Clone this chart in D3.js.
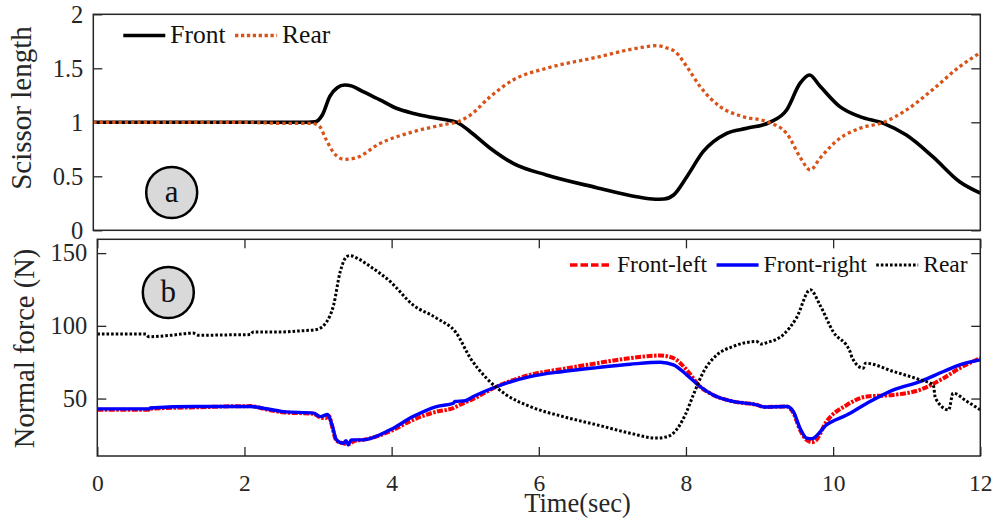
<!DOCTYPE html>
<html lang="en">
<head>
  <meta charset="utf-8" />
  <title>Scissor length and normal force</title>
  <script src="https://cdn.jsdelivr.net/npm/d3@7"></script>
  <style>
    body { margin: 0; background: #fff; }
    svg  { display: block; }
    svg text { font-family: "Liberation Serif", "Times New Roman", "DejaVu Serif", serif; }
    .frame { fill: none; stroke: #262626; stroke-width: 1.5px; }
    .tick line { stroke: #262626; stroke-width: 1.3px; }
    .tick text { fill: #262626; }
    .lbl { fill: #262626; }
    .leg text { fill: #111; }
  </style>
</head>
<body>
<svg id="chart" width="996" height="527"></svg>
<script>
// ---- panel a: scissor length ----
const tA      = [0, 1, 2, 2.8, 3.0, 3.1, 3.2, 3.3, 3.4, 3.5, 3.65, 3.9, 4.1, 4.35, 4.55, 4.75, 4.92, 5.1, 5.37, 5.68, 6.13, 6.81, 7.35, 7.6, 7.72, 7.85, 8.03, 8.25, 8.57, 8.84, 9.15, 9.38, 9.56, 9.69, 9.83, 10.1, 10.37, 10.69, 11.0, 11.36, 11.72, 12];
const frontA  = [1.0, 1.0, 1.0, 1.0, 1.005, 1.07, 1.24, 1.32, 1.345, 1.335, 1.283, 1.2, 1.13, 1.08, 1.05, 1.025, 1.0, 0.913, 0.76, 0.62, 0.512, 0.395, 0.311, 0.288, 0.29, 0.327, 0.496, 0.728, 0.898, 0.944, 1.0, 1.114, 1.36, 1.438, 1.336, 1.145, 1.052, 0.99, 0.882, 0.68, 0.45, 0.345];
const tA2     = [0, 1, 2, 2.6, 2.95, 3.05, 3.15, 3.25, 3.4, 3.55, 3.88, 4.33, 4.78, 4.95, 5.1, 5.37, 5.68, 6.13, 6.81, 7.35, 7.62, 7.75, 7.87, 8.03, 8.21, 8.48, 8.79, 9.11, 9.38, 9.56, 9.7, 9.83, 10.1, 10.37, 10.69, 11.0, 11.36, 11.72, 12];
const rearA   = [1.0, 1.0, 1.0, 0.99, 0.99, 0.97, 0.84, 0.72, 0.657, 0.67, 0.805, 0.913, 0.984, 1.01, 1.067, 1.237, 1.392, 1.5, 1.602, 1.685, 1.71, 1.69, 1.655, 1.515, 1.33, 1.145, 1.052, 1.006, 0.898, 0.68, 0.558, 0.667, 0.852, 0.944, 1.0, 1.114, 1.305, 1.515, 1.645];

// ---- panel b: normal force ----
const tRear   = [0, 0.66, 0.7, 1.0, 1.3, 1.38, 1.8, 2.08, 2.12, 2.5, 2.75, 2.98, 3.12, 3.21, 3.3, 3.39, 3.43, 3.55, 3.71, 3.98, 4.29, 4.61, 4.88, 5.07, 5.29, 5.56, 5.88, 6.33, 6.79, 7.24, 7.6, 7.72, 7.83, 7.99, 8.1, 8.24, 8.42, 8.64, 8.96, 9.02, 9.1, 9.32, 9.5, 9.69, 9.82, 10.0, 10.23, 10.26, 10.41, 10.44, 10.82, 11.18, 11.36, 11.39, 11.57, 11.63, 11.82, 12];
const rearB   = [94.3, 94.3, 92.5, 93.5, 95, 93.5, 93.8, 94, 95.8, 95.8, 96.5, 97.5, 103, 114, 137, 147.6, 148.3, 146, 140.8, 130.5, 114.4, 105.3, 95, 77.8, 64, 52.5, 44.5, 37.6, 31.9, 26.2, 22.8, 23.5, 26.2, 38.8, 52.5, 68.6, 80, 85.8, 89.2, 87.5, 88.5, 93.8, 105.3, 124.8, 114.4, 96, 82.3, 77.8, 70.9, 74.3, 68.6, 62.9, 59.4, 50.3, 42.2, 53.7, 48, 42.2];
const tFR     = [0, 0.7, 0.72, 1.35, 2.08, 2.3, 2.53, 2.94, 3.03, 3.13, 3.19, 3.25, 3.34, 3.38, 3.41, 3.45, 3.61, 3.98, 4.29, 4.61, 4.84, 4.86, 5.0, 5.11, 5.43, 5.88, 6.33, 6.79, 7.24, 7.65, 7.83, 8.01, 8.19, 8.37, 8.64, 8.96, 9.07, 9.37, 9.46, 9.55, 9.64, 9.71, 9.91, 10.19, 10.46, 10.82, 11.18, 11.5, 11.72, 12];
const frontR  = [42.9, 42.9, 43.5, 44.5, 44.5, 43, 41, 40, 37.6, 39, 31.9, 21.6, 19.3, 21, 18.2, 21.6, 21.6, 28.5, 37.6, 44.5, 46.8, 48, 48.5, 51.4, 58.3, 65.1, 68.6, 71.3, 73.6, 75, 73.2, 66.3, 58.3, 52.5, 48, 45.7, 44.2, 44.5, 41, 29.6, 22.8, 22.4, 31.9, 38.8, 46.8, 56, 61.7, 68.6, 73.2, 76.6];
const tFL     = [0, 0.7, 0.72, 1.35, 2.08, 2.3, 2.53, 2.94, 3.03, 3.1, 3.15, 3.19, 3.25, 3.34, 3.41, 3.5, 3.61, 3.98, 4.29, 4.61, 4.84, 4.9, 5.11, 5.43, 5.88, 6.33, 6.79, 7.24, 7.65, 7.83, 8.01, 8.19, 8.37, 8.64, 8.96, 9.07, 9.37, 9.46, 9.55, 9.64, 9.71, 9.76, 9.91, 10.19, 10.46, 10.82, 11.18, 11.5, 11.72, 12];
const frontL  = [42.3, 42.3, 43, 44, 44.8, 42.5, 40.5, 39.5, 37, 36.5, 38, 31, 21, 19.3, 18.5, 21, 21.6, 27.5, 35.3, 41, 43.5, 45, 49.8, 58.3, 66.3, 70.4, 74.3, 77.8, 79.6, 77.8, 69.7, 58.3, 52.5, 48, 45.7, 44.2, 44.5, 40, 28.5, 21.5, 20, 21, 34.2, 45.7, 51.4, 52.5, 56, 64, 70.9, 77.8];

const xTicks  = [0, 2, 4, 6, 8, 10, 12];
const yTicksA = [0, 0.5, 1, 1.5, 2];
const yTicksB = [50, 100, 150];

const svg = d3.select('#chart');
const TICK = 9;
const fmt = d3.format('~g');

/* ---- panel geometry ---- */
const A = {l: 93.3, t: 14.3, r: 980.3, b: 230.3};
const B = {l: 97.3, t: 239.3, r: 980.3, b: 456};

const xA = d3.scaleLinear().domain([0, 12]).range([A.l, A.r]);
const yA = d3.scaleLinear().domain([0, 2]).range([A.b, A.t]);
const xB = d3.scaleLinear().domain([0, 12]).range([B.l, B.r]);
const yB = d3.scaleLinear().domain([10.5, 159.5]).range([B.b, B.t]);

function yAxes(P, y, ticks, fs) {
  svg.append('g').attr('transform', `translate(${P.l},0)`)
    .call(d3.axisLeft(y).tickValues(ticks).tickFormat(fmt).tickSizeInner(-TICK).tickSizeOuter(0).tickPadding(10))
    .call(g => g.select('.domain').remove())
    .selectAll('text').style('font-size', fs + 'px');
  svg.append('g').attr('transform', `translate(${P.r},0)`)
    .call(d3.axisRight(y).tickValues(ticks).tickSizeInner(-TICK).tickSizeOuter(0).tickFormat(''))
    .call(g => g.select('.domain').remove());
}

function series(x, y, ts, vs, color, width, dash) {
  const line = d3.line().x((d, i) => x(ts[i])).y(d => y(d)).curve(d3.curveMonotoneX);
  svg.append('path').datum(vs)
    .attr('d', line).attr('fill', 'none')
    .attr('stroke', color).attr('stroke-width', width)
    .attr('stroke-dasharray', dash || null)
    .attr('stroke-linejoin', 'round');
}

function legend(x0, yc, fs, items) {
  const g = svg.append('g').attr('class', 'leg');
  let x = x0;
  items.forEach(it => {
    g.append('line').attr('x1', x).attr('x2', x + 42).attr('y1', yc).attr('y2', yc)
      .attr('stroke', it.color).attr('stroke-width', it.width).attr('stroke-dasharray', it.dash || null);
    x += 47;
    const t = g.append('text').attr('x', x).attr('y', yc).attr('dy', '0.3em')
      .style('font-size', fs + 'px').text(it.name);
    x += t.node().getComputedTextLength() + 9.5;
  });
}

function badge(cx, cy, s) {
  svg.append('circle').attr('cx', cx).attr('cy', cy).attr('r', 25.5)
    .attr('fill', '#d9d9d9').attr('stroke', '#000').attr('stroke-width', 2.5);
  svg.append('text').attr('x', cx).attr('y', cy).attr('dy', '0.3em')
    .attr('text-anchor', 'middle').style('font-size', '31px').attr('fill', '#111').text(s);
}

/* ---------- panel a ---------- */
yAxes(A, yA, yTicksA, 24.5);
series(xA, yA, tA, frontA, '#000', 3.6);
series(xA, yA, tA2, rearA, '#d95319', 3.3, '3.3,3');
svg.append('rect').attr('class', 'frame')
  .attr('x', A.l).attr('y', A.t).attr('width', A.r - A.l).attr('height', A.b - A.t);
legend(123.3, 35.5, 25.5, [
  {name: 'Front', color: '#000', width: 3.6},
  {name: 'Rear', color: '#d95319', width: 3.3, dash: '3.3,2.6'}
]);
badge(171.7, 192.5, 'a');
svg.append('text').attr('class', 'lbl')
  .attr('transform', `translate(31,108) rotate(-90)`).attr('text-anchor', 'middle')
  .style('font-size', '29px').text('Scissor length');

/* ---------- panel b ---------- */
yAxes(B, yB, yTicksB, 24.5);
svg.append('g').attr('transform', `translate(0,${B.b})`)
  .call(d3.axisBottom(xB).tickValues(xTicks).tickSizeInner(-TICK).tickSizeOuter(0).tickPadding(18))
  .call(g => g.select('.domain').remove())
  .selectAll('text').style('font-size', '23.5px');
svg.append('g').attr('transform', `translate(0,${B.t})`)
  .call(d3.axisTop(xB).tickValues(xTicks).tickSizeInner(-TICK).tickSizeOuter(0).tickFormat(''))
  .call(g => g.select('.domain').remove());

series(xB, yB, tFL, frontL, '#ff0000', 4, '6,1.5,2.5,1.5');
series(xB, yB, tFR, frontR, '#0000ff', 3.4);
series(xB, yB, tRear, rearB, '#000', 3, '2.6,2');
svg.append('rect').attr('class', 'frame')
  .attr('x', B.l).attr('y', B.t).attr('width', B.r - B.l).attr('height', B.b - B.t);
legend(570, 265, 23.5, [
  {name: 'Front-left', color: '#ff0000', width: 3.5, dash: '7.5,3'},
  {name: 'Front-right', color: '#0000ff', width: 3.5},
  {name: 'Rear', color: '#000', width: 3, dash: '2.6,2'}
]);
badge(168.3, 292.5, 'b');
svg.append('text').attr('class', 'lbl')
  .attr('transform', `translate(34,348.5) rotate(-90)`).attr('text-anchor', 'middle')
  .style('font-size', '28.5px').text('Normal force (N)');

svg.append('text').attr('class', 'lbl').attr('x', 577.5).attr('y', 512)
  .attr('text-anchor', 'middle').style('font-size', '26.5px').text('Time(sec)');
</script>
</body>
</html>
